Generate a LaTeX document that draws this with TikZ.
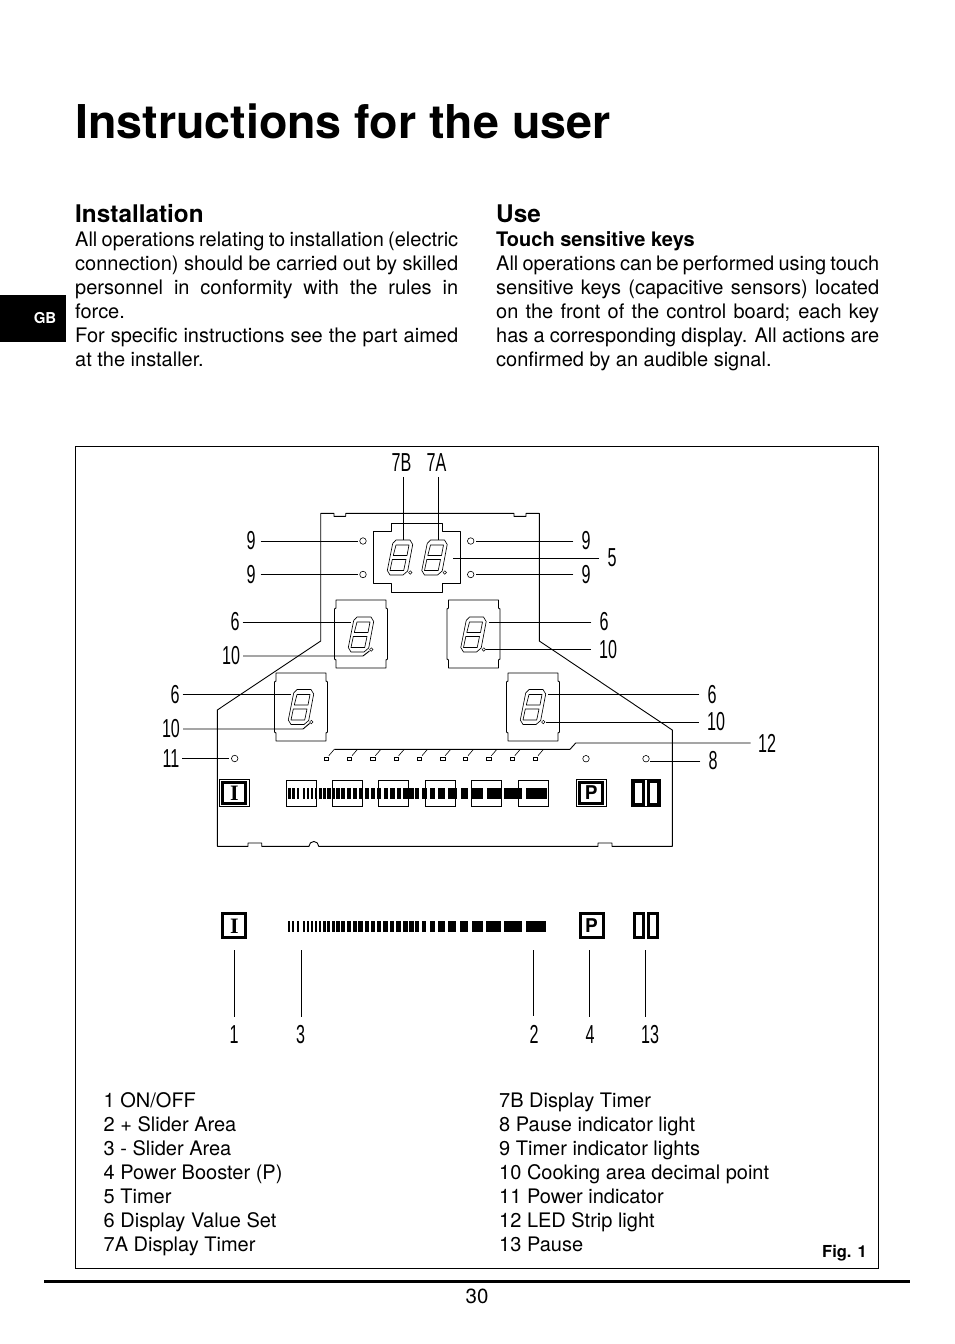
\documentclass[tikz,border=0pt]{standalone}
\usepackage{fontspec}
\setmainfont{TeX Gyre Heros}
\setsansfont{Liberation Sans}
\newfontfamily\keyserif{Liberation Serif}
\usetikzlibrary{calc}

\newcommand{\bodyfont}{\fontsize{20}{24}\selectfont}
\newcommand{\callfont}{\sffamily\fontsize{26}{26}\selectfont}

\tikzset{
    pics/digit/.style={code={
        \draw[segline] (-4,-17.5) -- (10,-17.5) -- (12.7,-13) -- (7.7,13.5) -- (3,17.5)
            -- (-10,17.5) -- (-12.7,13) -- (-7.3,-14) -- cycle;
        \draw[segline] (-4,-12.5) -- (9,-12.5) -- (7,-2) -- (-6.7,-2) -- cycle;
        \draw[segline] (-7.7,2) -- (6,2) -- (3.7,13) -- (-10,13) -- cycle;
        \node[dot] (-dot) at (10.3,15) {};
        \coordinate (-west) at (-10.5,-12.5);
        \coordinate (-east) at (15,-12.5);
        \coordinate (-north) at (3.6,-18);
    }},
    pics/dispbox/.style={code={
        \draw[panel] (-25,-34) -- (25,-34) -- (25,-26) -- (26.5,-25) -- (26.5,25) -- (25,26)
            -- (25,34) -- (-25,34) -- (-25,26) -- (-26.5,25) -- (-26.5,-25) -- (-25,-26) -- cycle;
    }},
    pics/sliderbars/.style={code={
        \foreach \x/\w in {0/2.4, 4/2.4, 8.7/2.4, 14.5/2, 18.5/2.4, 22.5/2.6, 26.5/2.6, 30.5/2.8, 34.5/3,
                39/3.4, 43.5/3.6, 48/4, 53/4, 58.5/4, 64.7/4, 70.2/4.4, 76.7/4.2, 82.7/4.2,
                88.7/4.2, 95.2/4.5, 101.7/4.5, 108.2/4.5, 114.7/5, 120.7/5, 126.7/4, 134/4.4,
                141.7/5, 150/6.7, 160/8.4, 172.4/7.6, 184/11, 198.4/14.3, 216/18, 237.7/20.7} {
            \fill (\x,0) rectangle ++(\w,11);
        }
    }},
}

\begin{document}
\begin{tikzpicture}[
    x=1pt, y=-1pt,
    panel/.style={line width=0.9pt, line join=round},
    segline/.style={line width=0.65pt, line join=round},
    leader/.style={line width=0.9pt},
    rightleader/.style={leader, shorten <=5pt},
    tickline/.style={leader, shorten >=4pt},
    dot/.style={circle, draw, line width=0.5pt, inner sep=0pt, minimum size=3.4pt, outer sep=0.6pt},
    led/.style={circle, draw, line width=0.6pt, inner sep=0pt, minimum size=6.5pt, outer sep=2pt},
    tinyled/.style={draw, line width=0.7pt, inner sep=0pt, minimum width=4.6pt, minimum height=2.6pt},
    callout/.style={font=\callfont, inner sep=0pt, outer sep=5pt, xscale=0.62, transform shape},
    keybox/.style={draw, line width=3pt, inner sep=0pt, font=\bfseries\fontsize{19}{19}\selectfont},
    onkey/.style={keybox, font=\keyserif\bfseries\fontsize{22}{22}\selectfont},
    keyrim/.style={draw, line width=0.6pt, minimum height=27.5pt, inner sep=0pt},
    slidekey/.style={draw, line width=0.8pt, minimum width=30pt, minimum height=26.5pt, inner sep=0pt},
    legend/.style={anchor=north west, inner sep=0pt, align=left, font=\bodyfont},
    column/.style={anchor=north west, inner sep=0pt, text width=383pt, align=justify, font=\bodyfont},
]
\useasboundingbox (0,0) rectangle (954,1344);

% =============================================================================
% Page heading and text columns
% =============================================================================
\node[anchor=base west, inner sep=0pt, font=\bfseries\fontsize{46.6}{48}\selectfont] (title) at (75,138)
    {Instructions for the user};
\node[anchor=base west, inner sep=0pt, font=\bfseries\fontsize{24.3}{24}\selectfont] (headInstall) at (75,222) {Installation};
\node[anchor=base west, inner sep=0pt, font=\bfseries\fontsize{24.3}{24}\selectfont] (headUse) at (496,222) {Use};

\node[column] (textInstall) at (75,232) {All operations relating to installation (electric\linebreak
    connection) should be carried out by skilled\linebreak
    personnel in conformity with the rules in\linebreak
    force.\\
    For specific instructions see the part aimed\linebreak
    at the installer.};
\node[column] (textUse) at (496,231) {\textbf{Touch sensitive keys}\\
    All operations can be performed using touch\linebreak
    sensitive keys (capacitive sensors) located\linebreak
    on the front of the control board; each key\linebreak
    has a corresponding display. All actions are\linebreak
    confirmed by an audible signal.};

% Language tab
\fill (0,295) rectangle (66,342);
\node[text=white, inner sep=0pt, font=\bfseries\fontsize{15}{15}\selectfont] (tabGB) at (45,318) {GB};

% =============================================================================
% Frame and footer
% =============================================================================
\draw[line width=1pt] (75.5,446.5) rectangle (878.5,1268);
\draw[line width=3pt] (44,1281) -- (910,1281);
\node[inner sep=0pt, font=\fontsize{20.5}{24}\selectfont] (pageNo) at (477,1296) {30};
\node[inner sep=0pt, font=\bfseries\fontsize{16.5}{16}\selectfont] (figNo) at (844.5,1253.5) {Fig. 1};

% =============================================================================
% Control board outline
% =============================================================================
\draw[panel] (320.7,513.3) -- (334,513.3) -- (334,516.3) -- (345.7,516.3) -- (345.7,513.3)
    -- (514,513.3) -- (514,516.3) -- (526,516.3) -- (526,513.3) -- (539.3,513.3)
    -- (539.3,641) -- (672.3,730) -- (672.3,846.3) -- (612,846.3) -- (612,843) -- (598,843)
    -- (598,846.3) -- (318.7,846.3) arc (0:-180:4.85) -- (261.7,846.3) -- (261.7,843)
    -- (248,843) -- (248,846.3) -- (217.3,846.3) -- (217.3,710) -- (320.7,641) -- cycle;

% Timer display housing
\draw[panel] (391.7,523.3) -- (442.3,523.3) -- (442.3,531.7) -- (460.3,531.7) -- (460.3,583.3)
    -- (442.3,583.3) -- (442.3,592.3) -- (391.7,592.3) -- (391.7,583.3) -- (373.3,583.3)
    -- (373.3,531.7) -- (391.7,531.7) -- cycle;

% Zone display housings and digits
\pic at (361,634) {dispbox};
\pic at (473.5,634) {dispbox};
\pic at (301,707) {dispbox};
\pic at (533,707) {dispbox};

\pic (digB) at (400,557.5) {digit};
\pic (digA) at (434.5,557.5) {digit};
\pic (digML) at (361,634.5) {digit};
\pic (digMR) at (473.5,634.5) {digit};
\pic (digLL) at (301,707) {digit};
\pic (digLR) at (533,707) {digit};

% Indicator lights
\node[led] (ledNW) at (363,541) {};
\node[led] (ledSW) at (363,574.5) {};
\node[led] (ledNE) at (470.7,541) {};
\node[led] (ledSE) at (470.7,574.5) {};
\node[led] (ledPower) at (234.7,758.5) {};
\node[led] (ledBooster) at (586,758.7) {};
\node[led] (ledPause) at (646,758.7) {};

% LED strip
\foreach \x in {326.3, 349.5, 372.9, 396.2, 419.5, 442.7, 465.5, 488.9, 512.3, 535.5} {
    \node[tinyled] at (\x,758.7) {};
    \draw[line width=0.6pt] ($(\x,758.7)+(2.5,-3)$) -- ($(\x,758.7)+(8,-9.4)$);
}
\coordinate (stripEnd) at (750.7,743);
\draw[panel] (334.3,749.3) -- (570,749.3) -- (575.7,743) -- (stripEnd);

% =============================================================================
% Keys on the board
% =============================================================================
\foreach \x in {301, 347.3, 393.3, 440.3, 486.3, 533.6} {
    \node[slidekey] at (\x,793.3) {};
}
\pic at (288.3,788) {sliderbars};

\node[keyrim, minimum width=30pt] (rimOn) at (234.3,793) {};
\node[onkey, minimum width=23pt, minimum height=21pt] (boardOn) at (234.3,793) {I};
\node[keyrim, minimum width=30pt] (rimP) at (591.3,793) {};
\node[keybox, minimum width=23pt, minimum height=21pt] (boardP) at (591.3,793) {P};
\node[keyrim, minimum width=29pt] (rimPause) at (646.2,793) {};
\node[keybox, minimum width=10pt, minimum height=23pt] (boardPauseL) at (638,793) {};
\node[keybox, minimum width=10pt, minimum height=23pt] (boardPauseR) at (653.8,793) {};

% =============================================================================
% Keys below the board
% =============================================================================
\node[onkey, minimum width=23pt, minimum height=24pt] (keyOn) at (234.3,925.8) {I};
\pic at (288,921) {sliderbars};
\node[keybox, minimum width=23pt, minimum height=24pt] (keyP) at (591.5,925.8) {P};
\node[keybox, minimum width=9pt, minimum height=24pt] (keyPauseL) at (639.2,925.8) {};
\node[keybox, minimum width=9pt, minimum height=24pt] (keyPauseR) at (652.5,925.8) {};

% =============================================================================
% Callouts
% =============================================================================
\node[callout] (nB) at (401.5,463) {7B};
\node[callout] (nA) at (436.5,463) {7A};
\draw[leader] (digB-north |- nB.south) -- (digB-north);
\draw[leader] (digA-north |- nA.south) -- (digA-north);

\node[callout] (nineNW) at (251,541) {9};
\node[callout] (nineSW) at (251,574.5) {9};
\node[callout] (nineNE) at (586,541) {9};
\node[callout] (nineSE) at (586,574.5) {9};
\draw[leader, shorten <=2pt] (nineNW) -- (ledNW);
\draw[leader, shorten <=2pt] (nineSW) -- (ledSW);
\draw[rightleader] (nineNE) -- (ledNE);
\draw[rightleader] (nineSE) -- (ledSE);

\node[callout] (five) at (612,558) {5};
\coordinate (timerEdge) at (453,558);
\draw[rightleader] (five) -- (timerEdge);

\node[callout] (sixML) at (235,622) {6};
\node[callout] (tenML) at (231,656) {10};
\draw[leader] (sixML) -- (digML-west);
\draw[leader] (tenML) -- (363,656) -- (digML-dot);

\node[callout] (sixMR) at (604,622) {6};
\node[callout] (tenMR) at (608,649.5) {10};
\draw[rightleader] (sixMR) -- (digMR-east);
\draw[rightleader] (tenMR) -- (digMR-dot);

\node[callout] (sixLL) at (175,694.5) {6};
\node[callout] (tenLL) at (171,729) {10};
\node[callout] (eleven) at (171,758.5) {11};
\draw[leader] (sixLL) -- (digLL-west);
\draw[leader] (tenLL) -- (303,729) -- (digLL-dot);
\draw[leader] (eleven) -- (ledPower);

\node[callout] (sixLR) at (712,694.5) {6};
\node[callout] (tenLR) at (716,722) {10};
\draw[rightleader] (sixLR) -- (digLR-east);
\draw[rightleader] (tenLR) -- (digLR-dot);

\node[callout, anchor=west] (twelve) at (755,743) {12};
\node[callout] (eight) at (713,761) {8};
\draw[rightleader] (eight) -- (eight -| ledPause.south east);

\node[callout] (one) at (234,1035) {1};
\node[callout] (three) at (300.5,1035) {3};
\node[callout] (two) at (534,1034.5) {2};
\node[callout] (four) at (590,1035) {4};
\node[callout] (thirteen) at (650,1035) {13};
\coordinate (tickOne) at (234.3,950);
\coordinate (tickThree) at (301.3,950);
\coordinate (tickTwo) at (533.3,950);
\coordinate (tickFour) at (589.3,950);
\coordinate (tickThirteen) at (645.3,950);
\draw[tickline] (tickOne) -- (tickOne |- one.north);
\draw[tickline] (tickThree) -- (tickThree |- three.north);
\draw[tickline] (tickTwo) -- (tickTwo |- two.north);
\draw[tickline] (tickFour) -- (tickFour |- four.north);
\draw[tickline] (tickThirteen) -- (tickThirteen |- thirteen.north);

% =============================================================================
% Legend
% =============================================================================
\node[legend] (legendLeft) at (103.5,1092.5) {1 ON/OFF\\ 2 + Slider Area\\ 3 - Slider Area\\ 4 Power Booster (P)\\
    5 Timer\\ 6 Display Value Set\\ 7A Display Timer};
\node[legend] (legendRight) at (499,1092.5) {7B Display Timer\\ 8 Pause indicator light\\ 9 Timer indicator lights\\
    10 Cooking area decimal point\\ 11 Power indicator\\ 12 LED Strip light\\ 13 Pause};

\end{tikzpicture}
\end{document}
